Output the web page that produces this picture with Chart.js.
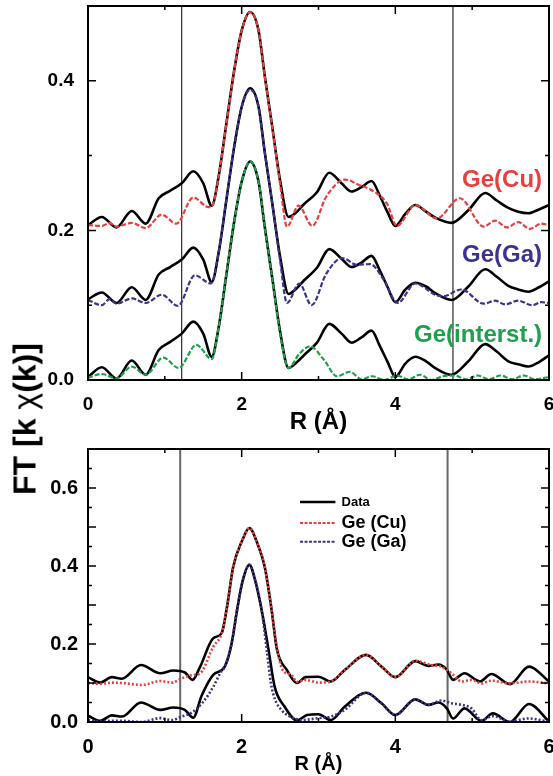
<!DOCTYPE html>
<html>
<head>
<meta charset="utf-8">
<script src="https://cdn.jsdelivr.net/npm/chart.js@4.4.1/dist/chart.umd.min.js"></script>
<style>
  body { margin: 0; background: #fff; }
  #wrap { position: relative; width: 553px; height: 776px; background: #fff; }
  canvas { position: absolute; left: 0; }
  #topChart { top: 0; }
  #bottomChart { top: 440px; }
  #ytitle {
    position: absolute; left: 25px; top: 419px;
    transform: translate(-50%, -50%) rotate(-90deg);
    font: bold 32px "Liberation Sans", Arial, sans-serif;
    white-space: nowrap; color: #000;
  }
  #ytitle span { font-weight: normal; }
</style>
</head>
<body>
<div id="wrap">
  <canvas id="topChart" width="553" height="445"></canvas>
  <canvas id="bottomChart" width="553" height="336"></canvas>
  <div id="ytitle">FT [k <span>χ</span>(k)]</div>
</div>
<script>
// ---- top panel: data (offset by +0.2 / +0.1 / 0) and fits ----
const topR = [0, 0.18, 0.37, 0.57, 0.75, 0.92, 1.07, 1.22, 1.37, 1.50, 1.61, 1.70, 1.80, 1.90, 2.00, 2.11, 2.22, 2.30, 2.40, 2.50,
  2.61, 2.70, 2.81, 2.98, 3.14, 3.30, 3.43, 3.56, 3.69, 3.80, 3.90, 4.00, 4.13, 4.26, 4.40, 4.52, 4.73, 4.95, 5.17, 5.32,
  5.47, 5.60, 5.73, 5.87, 6.00];
const dataCu = [0.207, 0.218, 0.204, 0.226, 0.209, 0.243, 0.253, 0.263, 0.279, 0.263, 0.233, 0.272, 0.342, 0.412, 0.467, 0.492, 0.467, 0.407, 0.337, 0.267,
  0.218, 0.223, 0.235, 0.251, 0.277, 0.263, 0.252, 0.258, 0.266, 0.246, 0.224, 0.206, 0.222, 0.234, 0.225, 0.217, 0.210, 0.227, 0.250, 0.240,
  0.230, 0.225, 0.223, 0.228, 0.234];
const dataGa = [0.108, 0.117, 0.103, 0.124, 0.107, 0.141, 0.151, 0.161, 0.177, 0.161, 0.131, 0.170, 0.240, 0.310, 0.365, 0.390, 0.365, 0.305, 0.235, 0.165,
  0.115, 0.121, 0.133, 0.150, 0.175, 0.162, 0.151, 0.157, 0.166, 0.146, 0.124, 0.104, 0.121, 0.130, 0.125, 0.116, 0.107, 0.125, 0.148, 0.138,
  0.126, 0.121, 0.118, 0.124, 0.132];
const dataInt = [0.004, 0.017, 0.002, 0.026, 0.007, 0.040, 0.051, 0.062, 0.078, 0.062, 0.031, 0.070, 0.140, 0.210, 0.265, 0.292, 0.265, 0.205, 0.135, 0.065,
  0.016, 0.022, 0.033, 0.050, 0.075, 0.062, 0.050, 0.057, 0.066, 0.045, 0.024, 0.004, 0.022, 0.031, 0.025, 0.016, 0.007, 0.025, 0.048, 0.038,
  0.025, 0.021, 0.018, 0.024, 0.033];

const fitCuR = [0, 0.18, 0.28, 0.37, 0.57, 0.75, 0.96, 1.15, 1.37, 1.57, 1.63, 1.70, 1.80, 1.90, 2.00, 2.11, 2.22, 2.30, 2.40, 2.50,
  2.59, 2.74, 2.92, 3.10, 3.35, 3.52, 3.67, 3.89, 4.02, 4.26, 4.54, 4.84, 5.15, 5.30, 5.45, 5.60, 5.75, 5.90, 6.00];
const fitCu = [0.207, 0.206, 0.210, 0.205, 0.210, 0.203, 0.221, 0.209, 0.244, 0.231, 0.236, 0.272, 0.342, 0.412, 0.467, 0.492, 0.467, 0.407, 0.337, 0.262,
  0.205, 0.233, 0.206, 0.245, 0.268, 0.261, 0.255, 0.236, 0.206, 0.234, 0.216, 0.243, 0.205, 0.213, 0.204, 0.211, 0.202, 0.209, 0.207];

const fitGaR = [0, 0.18, 0.28, 0.37, 0.57, 0.75, 0.96, 1.17, 1.39, 1.60, 1.70, 1.80, 1.90, 2.00, 2.11, 2.22, 2.30, 2.40, 2.50,
  2.59, 2.75, 2.91, 3.10, 3.31, 3.50, 3.67, 3.85, 4.03, 4.26, 4.52, 4.62, 4.86, 5.15, 5.30, 5.43, 5.60, 5.78, 5.90, 6.00];
const fitGa = [0.107, 0.100, 0.108, 0.102, 0.109, 0.103, 0.114, 0.099, 0.140, 0.129, 0.170, 0.240, 0.310, 0.365, 0.388, 0.365, 0.305, 0.235, 0.160,
  0.103, 0.129, 0.100, 0.142, 0.163, 0.154, 0.155, 0.134, 0.103, 0.129, 0.114, 0.112, 0.121, 0.102, 0.106, 0.101, 0.106, 0.100, 0.104, 0.103];

const fitIntR = [0, 0.18, 0.37, 0.57, 0.75, 0.98, 1.18, 1.41, 1.61, 1.70, 1.80, 1.90, 2.00, 2.11, 2.22, 2.30, 2.40, 2.50,
  2.61, 2.75, 2.89, 3.07, 3.24, 3.41, 3.56, 3.70, 3.86, 4.02, 4.17, 4.32, 4.47, 4.62, 4.77, 4.92, 5.07, 5.22, 5.37, 5.52, 5.67, 5.82, 6.00];
const fitInt = [0.003, 0.008, 0.002, 0.018, 0.007, 0.030, 0.016, 0.047, 0.028, 0.070, 0.140, 0.210, 0.265, 0.292, 0.265, 0.205, 0.135, 0.062,
  0.016, 0.035, 0.045, 0.027, 0.005, 0.011, 0.001, 0.005, 0.000, 0.006, 0.001, 0.007, 0.000, 0.005, 0.006, 0.001, 0.006, 0.001, 0.006, 0.001, 0.006, 0.001, 0.004];

// ---- bottom panel ----
const botDataUpR = [0, 0.16, 0.31, 0.44, 0.69, 0.94, 1.11, 1.26, 1.36, 1.46, 1.63, 1.74, 1.81, 1.89, 2.00, 2.10, 2.21, 2.30, 2.39, 2.46,
  2.59, 2.72, 2.83, 3.00, 3.16, 3.34, 3.62, 3.82, 4.00, 4.26, 4.43, 4.56, 4.67, 4.75, 4.90, 5.10, 5.25, 5.49, 5.74, 6.00];
const botDataUp = [0.115, 0.101, 0.115, 0.111, 0.146, 0.125, 0.132, 0.127, 0.108, 0.142, 0.215, 0.228, 0.296, 0.398, 0.462, 0.497, 0.455, 0.398, 0.287, 0.185,
  0.133, 0.100, 0.115, 0.116, 0.104, 0.133, 0.172, 0.142, 0.115, 0.156, 0.144, 0.147, 0.134, 0.108, 0.125, 0.104, 0.123, 0.097, 0.142, 0.104];

const botDataLowR = [0, 0.16, 0.31, 0.44, 0.69, 0.94, 1.11, 1.26, 1.37, 1.48, 1.63, 1.78, 1.87, 1.94, 2.01, 2.10, 2.18, 2.26, 2.35, 2.43,
  2.56, 2.72, 2.85, 3.00, 3.16, 3.34, 3.62, 3.82, 4.00, 4.26, 4.43, 4.56, 4.67, 4.75, 4.90, 5.12, 5.27, 5.49, 5.74, 6.00];
const botDataLow = [0.016, 0.003, 0.017, 0.014, 0.050, 0.031, 0.037, 0.031, 0.011, 0.068, 0.121, 0.142, 0.202, 0.287, 0.360, 0.403, 0.360, 0.287, 0.185, 0.090,
  0.039, 0.004, 0.018, 0.020, 0.005, 0.039, 0.075, 0.048, 0.018, 0.058, 0.044, 0.050, 0.035, 0.009, 0.035, 0.003, 0.022, 0.000, 0.046, 0.001];

const botFitCuR = [0, 0.16, 0.31, 0.44, 0.70, 0.94, 1.09, 1.22, 1.35, 1.46, 1.63, 1.74, 1.81, 1.89, 2.00, 2.10, 2.21, 2.30, 2.39, 2.46,
  2.53, 2.65, 2.72, 2.83, 3.00, 3.16, 3.34, 3.62, 3.82, 4.00, 4.26, 4.47, 4.60, 4.73, 4.86, 4.99, 5.12, 5.25, 5.49, 5.73, 6.00];
const botFitCu = [0.100, 0.098, 0.101, 0.100, 0.095, 0.105, 0.101, 0.112, 0.120, 0.125, 0.193, 0.228, 0.296, 0.398, 0.462, 0.497, 0.455, 0.398, 0.287, 0.190,
  0.135, 0.120, 0.103, 0.108, 0.101, 0.104, 0.133, 0.172, 0.142, 0.115, 0.157, 0.146, 0.142, 0.125, 0.104, 0.108, 0.099, 0.106, 0.099, 0.104, 0.099];

const botFitGaR = [0, 0.16, 0.31, 0.44, 0.70, 0.94, 1.09, 1.22, 1.35, 1.50, 1.63, 1.72, 1.78, 1.87, 1.94, 2.01, 2.10, 2.18, 2.26, 2.33,
  2.38, 2.43, 2.52, 2.62, 2.78, 3.00, 3.16, 3.34, 3.62, 3.82, 4.00, 4.26, 4.43, 4.60, 4.73, 4.86, 4.99, 5.12, 5.27, 5.49, 5.73, 6.00];
const botFitGa = [0.005, 0.001, 0.003, 0.003, 0.000, 0.010, 0.005, 0.014, 0.024, 0.052, 0.090, 0.125, 0.142, 0.202, 0.287, 0.360, 0.403, 0.360, 0.287, 0.180,
  0.100, 0.060, 0.030, 0.015, 0.005, 0.010, 0.014, 0.031, 0.075, 0.048, 0.018, 0.058, 0.044, 0.055, 0.048, 0.044, 0.035, 0.005, 0.015, 0.001, 0.009, 0.001];

// window markers (R) and tick layout
const topWindow = [1.22, 4.75];
const botWindow = [1.2, 4.68];
const xMajor = [0, 2, 4, 6];
const xMinor = [1, 3, 5];
const topYMajor = [0, 0.2, 0.4];
const topYMinor = [0.1, 0.3];
const botYMajor = [0, 0.1, 0.2, 0.3, 0.4, 0.5, 0.6];
const botYMinor = [0.05, 0.15, 0.25, 0.35, 0.45, 0.55, 0.65];

const FONT = '"Liberation Sans", Arial, sans-serif';
const RED = '#e8403f', BLUE = '#3c3391', GREEN = '#1ea14c';

const pts = (rs, vs) => rs.map((r, i) => ({ x: r, y: vs[i] }));

function lineDs(rs, vs, color, width, dash, order) {
  return {
    data: pts(rs, vs), borderColor: color, borderWidth: width, borderDash: dash || [],
    pointRadius: 0, cubicInterpolationMode: 'monotone', fill: false, order: order
  };
}
function vLine(r, ymax, color, width) {
  return { data: [{ x: r, y: 0 }, { x: r, y: ymax }], borderColor: color, borderWidth: width, pointRadius: 0, order: 5 };
}

// frame + inward ticks on all four sides
const frameTicks = {
  id: 'frameTicks',
  afterDatasetsDraw(chart, args, o) {
    const { ctx, chartArea: a, scales: { x, y } } = chart;
    ctx.save();
    ctx.strokeStyle = '#000';
    ctx.lineWidth = 1.5;
    ctx.beginPath();
    const xt = (v, len) => {
      const p = x.getPixelForValue(v);
      ctx.moveTo(p, a.bottom); ctx.lineTo(p, a.bottom - len);
      ctx.moveTo(p, a.top); ctx.lineTo(p, a.top + len);
    };
    const yt = (v, len) => {
      const p = y.getPixelForValue(v);
      ctx.moveTo(a.left, p); ctx.lineTo(a.left + len, p);
      ctx.moveTo(a.right, p); ctx.lineTo(a.right - len, p);
    };
    o.xMajor.forEach(v => xt(v, 8));
    o.xMinor.forEach(v => xt(v, 4));
    o.yMajor.forEach(v => yt(v, 8));
    o.yMinor.forEach(v => yt(v, 4));
    ctx.stroke();
    ctx.lineWidth = 2;
    ctx.strokeRect(a.left, a.top, a.right - a.left, a.bottom - a.top);
    ctx.restore();
  }
};

// text labels placed in data coordinates
const notes = {
  id: 'notes',
  afterDatasetsDraw(chart, args, o) {
    const { ctx, scales: { x, y } } = chart;
    ctx.save();
    (o.texts || []).forEach(t => {
      ctx.font = t.font;
      ctx.fillStyle = t.color;
      ctx.textAlign = t.align;
      ctx.textBaseline = 'middle';
      ctx.fillText(t.text, x.getPixelForValue(t.x), y.getPixelForValue(t.y));
    });
    (o.keys || []).forEach(k => {
      const yy = y.getPixelForValue(k.y);
      ctx.beginPath();
      ctx.strokeStyle = k.color;
      ctx.lineWidth = k.width;
      ctx.setLineDash(k.dash);
      ctx.moveTo(x.getPixelForValue(k.x0), yy);
      ctx.lineTo(x.getPixelForValue(k.x1), yy);
      ctx.stroke();
      ctx.setLineDash([]);
      ctx.font = k.font;
      ctx.fillStyle = '#000';
      ctx.textAlign = 'left';
      ctx.textBaseline = 'middle';
      ctx.fillText(k.text, x.getPixelForValue(k.tx), yy);
    });
    ctx.restore();
  }
};

function scalesFor(ymax, yStep, xTitleSize, xTitlePad, xHeight, tickSize, yPad) {
  return {
    x: {
      type: 'linear', min: 0, max: 6,
      grid: { display: false }, border: { display: false },
      ticks: { stepSize: 2, padding: 5, color: '#000', maxRotation: 0, font: { family: FONT, size: tickSize, weight: 'bold' } },
      title: { display: true, text: 'R (Å)', color: '#000', padding: xTitlePad, font: { family: FONT, size: xTitleSize, weight: 'bold' } },
      afterFit(s) { s.height = xHeight; s.paddingLeft = 0; s.paddingRight = 0; }
    },
    y: {
      min: 0, max: ymax,
      grid: { display: false }, border: { display: false },
      ticks: { stepSize: yStep, includeBounds: false, padding: yPad, color: '#000',
        font: { family: FONT, size: tickSize, weight: 'bold' }, callback: v => v.toFixed(1) },
      afterFit(s) { s.width = 88; s.paddingTop = 0; s.paddingBottom = 0; }
    }
  };
}

new Chart(document.getElementById('topChart'), {
  type: 'line',
  data: {
    datasets: [
      lineDs(fitIntR, fitInt, GREEN, 2.2, [5, 2], 1),
      lineDs(fitGaR, fitGa, BLUE, 2.2, [5, 2], 1),
      lineDs(fitCuR, fitCu, RED, 2.2, [5, 2], 1),
      lineDs(topR, dataInt, '#000', 2.6, null, 2),
      lineDs(topR, dataGa, '#000', 2.6, null, 2),
      lineDs(topR, dataCu, '#000', 2.6, null, 2),
      vLine(topWindow[0], 0.5, '#000', 1),
      vLine(topWindow[1], 0.5, '#000', 1)
    ]
  },
  options: {
    responsive: false, animation: false, devicePixelRatio: 1,
    layout: { padding: { top: 6, right: 4, left: 0, bottom: 0 } },
    plugins: {
      legend: { display: false }, tooltip: { enabled: false },
      frameTicks: { xMajor, xMinor, yMajor: topYMajor, yMinor: topYMinor },
      notes: {
        texts: [
          { text: 'Ge(Cu)', x: 5.91, y: 0.267, color: RED, align: 'right', font: 'bold 24px ' + FONT },
          { text: 'Ge(Ga)', x: 5.91, y: 0.167, color: BLUE, align: 'right', font: 'bold 24px ' + FONT },
          { text: 'Ge(interst.)', x: 5.91, y: 0.060, color: GREEN, align: 'right', font: 'bold 24px ' + FONT }
        ]
      }
    },
    scales: scalesFor(0.5, 0.2, 24, { top: 0, bottom: 8 }, 65, 19, 6)
  },
  plugins: [frameTicks, notes]
});

new Chart(document.getElementById('bottomChart'), {
  type: 'line',
  data: {
    datasets: [
      lineDs(botFitGaR, botFitGa, BLUE, 2.6, [2, 2], 1),
      lineDs(botFitCuR, botFitCu, RED, 2.6, [2, 2], 1),
      lineDs(botDataLowR, botDataLow, '#000', 2.6, null, 2),
      lineDs(botDataUpR, botDataUp, '#000', 2.6, null, 2),
      vLine(botWindow[0], 0.7, '#666', 2),
      vLine(botWindow[1], 0.7, '#666', 2)
    ]
  },
  options: {
    responsive: false, animation: false, devicePixelRatio: 1,
    layout: { padding: { top: 9, right: 4, left: 0, bottom: 0 } },
    plugins: {
      legend: { display: false }, tooltip: { enabled: false },
      frameTicks: { xMajor, xMinor, yMajor: botYMajor, yMinor: botYMinor },
      notes: {
        keys: [
          { text: 'Data', x0: 2.76, x1: 3.22, tx: 3.30, y: 0.564, color: '#000', width: 2.5, dash: [], font: 'bold 13px ' + FONT },
          { text: 'Ge (Cu)', x0: 2.76, x1: 3.22, tx: 3.30, y: 0.510, color: RED, width: 2, dash: [3, 1.5], font: 'bold 18px ' + FONT },
          { text: 'Ge (Ga)', x0: 2.76, x1: 3.22, tx: 3.30, y: 0.462, color: BLUE, width: 2, dash: [3, 1.5], font: 'bold 18px ' + FONT }
        ]
      }
    },
    scales: scalesFor(0.7, 0.2, 20, { top: 0, bottom: 0 }, 54, 20, 2)
  },
  plugins: [frameTicks, notes]
});
</script>
</body>
</html>
